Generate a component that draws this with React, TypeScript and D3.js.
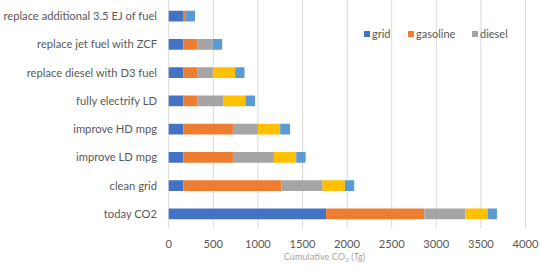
import React from "react";
import * as d3 from "d3";

const categories = [
  "replace additional 3.5 EJ of fuel",
  "replace jet fuel with ZCF",
  "replace diesel with D3 fuel",
  "fully electrify LD",
  "improve HD mpg",
  "improve LD mpg",
  "clean grid",
  "today CO2",
];
const grid = [160, 165, 165, 165, 165, 165, 165, 1765];
const gasoline = [25, 160, 160, 160, 555, 555, 1100, 1100];
const diesel = [0, 170, 170, 285, 280, 460, 460, 460];
const jet = [0, 0, 250, 250, 250, 250, 250, 250];
const other = [110, 105, 105, 108, 110, 105, 105, 105];
const xTicks = [0, 500, 1000, 1500, 2000, 2500, 3000, 3500, 4000];

const seriesNames = ["grid", "gasoline", "diesel", "jet", "other"];
const seriesValues = [grid, gasoline, diesel, jet, other];
const colors = ["#4472C4", "#ED7D31", "#A5A5A5", "#FFC000", "#5B9BD5"];
const legendNames = ["grid", "gasoline", "diesel"];

const W = 540;
const H = 271;
const FONT = "Lato, Carlito, Calibri, sans-serif";

export default function App() {
  const x = d3.scaleLinear().domain([0, 4000]).range([168.7, 525.5]);
  const y = d3.scaleBand<string>().domain(categories).range([2, 228]).paddingInner(0.62).paddingOuter(0.31);

  const rows = categories.map((c, i) => {
    const o: Record<string, any> = { cat: c };
    seriesNames.forEach((s, k) => (o[s] = seriesValues[k][i]));
    return o;
  });
  const stack = d3.stack<any>().keys(seriesNames)(rows);

  const legendX = [364, 408, 472];

  return (
    <svg
      width={W}
      height={H}
      style={{ position: "absolute", left: 0, top: 0, background: "#fff" }}
      fontFamily={FONT}
    >
      {xTicks.map((t) => (
        <line key={t} x1={x(t)} x2={x(t)} y1={0} y2={228} stroke="#D9D9D9" strokeWidth={1} />
      ))}
      {stack.map((layer, k) =>
        layer.map((d, i) =>
          d[1] - d[0] > 0 ? (
            <rect
              key={`${k}-${i}`}
              x={x(d[0])}
              width={x(d[1]) - x(d[0])}
              y={y(categories[i])}
              height={y.bandwidth()}
              fill={colors[k]}
            />
          ) : null
        )
      )}
      {categories.map((c) => (
        <text
          key={c}
          x={157}
          y={(y(c) as number) + y.bandwidth() / 2}
          dy="0.35em"
          textAnchor="end"
          fontSize={11.2}
          fill="#595959"
        >
          {c}
        </text>
      ))}
      {xTicks.map((t) => (
        <text key={t} x={x(t)} y={244} dy="0.35em" textAnchor="middle" fontSize={11.2} fill="#595959">
          {t}
        </text>
      ))}
      <text x={324.5} y={257} dy="0.35em" textAnchor="middle" fontSize={9.2} fill="#A6A6A6">
        Cumulative CO<tspan fontSize={6.5} dy="2">2</tspan>
        <tspan dy="-2"> (Tg)</tspan>
      </text>
      {legendNames.map((n, k) => (
        <g key={n} transform={`translate(${legendX[k]},34)`}>
          <rect x={0} y={-3} width={6} height={6} fill={colors[k]} />
          <text x={8} y={0} dy="0.35em" fontSize={11} fill="#595959">
            {n}
          </text>
        </g>
      ))}
    </svg>
  );
}
